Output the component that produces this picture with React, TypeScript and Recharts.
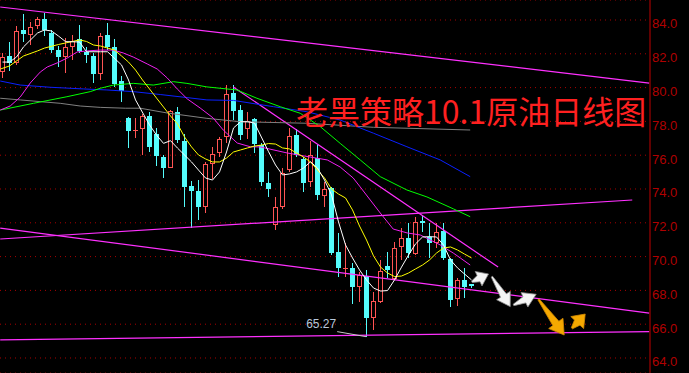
import React from 'react';
import { ComposedChart, Bar, Line, XAxis, YAxis, CartesianGrid, ReferenceLine } from 'recharts';

const W = 689;
const H = 373;
const AXIS_W = 39;
const SLOT = 7; // px per trading day
const X_MIN = -0.36;
const X_MAX = X_MIN + (W - AXIS_W) / SLOT;
const Y_MIN = 63.112;
const Y_MAX = 85.183;

// Daily OHLC, oldest first
const openP = [80.92, 81.87, 81.47, 83.41, 83.13, 83.66, 84.06, 83.21, 82.22, 81.79, 82.42, 82.86, 82.12, 81.89, 80.8, 83.11, 82.42, 80.37, 78.2, 77.46, 77.53, 78.32, 77.25, 75.91, 75.26, 78.57, 76.86, 74.2, 73.88, 72.92, 75.48, 76.11, 77.06, 79.66, 78.67, 77.55, 78.12, 76.6, 74.35, 71.87, 72.93, 75.12, 77.19, 75.76, 74.43, 75.82, 73.58, 74.04, 70.29, 69.29, 69.31, 68.2, 68.85, 66.35, 67.33, 69.44, 68.67, 70.55, 71.08, 70.15, 72.11, 71.18, 70.79, 71.53, 69.86, 67.47, 68.61, 68.38];
const highP = [82.05, 82.68, 83.64, 84.35, 83.86, 84.2, 84.43, 83.41, 82.46, 82.92, 83.11, 83.7, 82.42, 82.03, 83.21, 83.84, 82.86, 80.69, 78.26, 78.2, 78.44, 78.57, 77.59, 76.01, 78.67, 78.87, 77.25, 74.49, 74.53, 75.62, 76.47, 77.06, 80.15, 80.15, 78.97, 78.54, 78.2, 76.72, 75.02, 73.54, 75.24, 77.59, 77.55, 75.91, 76.86, 76.6, 74.43, 74.12, 71.41, 70.79, 69.6, 69.09, 69.21, 67.92, 69.8, 70.29, 70.88, 71.67, 71.97, 72.36, 72.46, 71.97, 71.97, 72.0, 69.9, 68.72, 69.31, 68.38];
const lowP = [80.57, 81.0, 81.34, 82.72, 82.52, 83.45, 83.07, 82.07, 81.24, 80.85, 81.63, 82.03, 81.44, 80.25, 80.45, 82.22, 80.05, 79.17, 76.43, 77.02, 76.01, 76.21, 75.36, 74.63, 75.22, 76.7, 72.95, 71.67, 72.17, 72.6, 74.57, 75.88, 76.7, 78.08, 76.9, 76.94, 76.15, 74.18, 73.51, 71.57, 72.82, 75.02, 75.89, 73.84, 74.14, 73.35, 72.92, 70.09, 68.81, 68.81, 67.18, 67.31, 65.27, 65.66, 67.23, 68.72, 68.61, 69.8, 69.9, 70.09, 71.47, 69.9, 70.49, 69.8, 67.0, 67.08, 67.53, 68.13];
const closeP = [81.81, 81.44, 83.33, 83.17, 83.57, 84.06, 83.41, 82.22, 81.83, 82.38, 82.78, 82.18, 81.93, 80.8, 83.05, 82.42, 80.21, 79.8, 77.43, 77.49, 78.32, 76.47, 75.97, 75.26, 78.62, 76.9, 74.14, 73.9, 72.95, 75.48, 76.05, 76.96, 79.62, 78.63, 77.19, 78.04, 76.66, 74.43, 74.0, 72.95, 74.95, 77.13, 76.01, 74.37, 76.01, 73.64, 73.98, 70.2, 69.31, 69.33, 68.22, 68.91, 66.35, 67.37, 69.15, 69.21, 70.49, 71.08, 70.2, 72.03, 71.97, 70.79, 71.47, 69.9, 67.43, 68.61, 68.22, 68.28];

// Moving averages as [day, price]
const ma5: [number, number][] = [[0, 81.51], [1, 81.51], [2, 81.81], [3, 82.41], [4, 82.82], [5, 83.23], [6, 83.41], [7, 83.35], [8, 83.05], [9, 82.72], [11, 82.7], [12, 82.12], [14, 82.12], [15, 82.12], [17, 81.34], [18, 80.45], [19, 79.27], [21, 77.79], [22, 77.19], [23, 76.7], [24, 76.86], [25, 76.42], [27, 75.6], [28, 75.12], [29, 74.65], [30, 74.53], [31, 75.01], [32, 76.19], [33, 77.61], [34, 77.98], [35, 77.98], [36, 77.9], [38, 76.21], [39, 75.42], [40, 74.83], [41, 74.89], [42, 75.01], [43, 75.24], [44, 75.61], [45, 75.24], [46, 74.53], [47, 73.65], [48, 72.05], [49, 70.69], [50, 69.92], [51, 69.21], [52, 68.62], [53, 68.14], [54, 67.96], [55, 67.99], [56, 68.62], [57, 69.38], [58, 70.09], [59, 70.75], [60, 71.16], [61, 71.18], [62, 71.16], [63, 70.69], [64, 69.8], [65, 69.33], [66, 68.97], [67, 68.62]];
const ma10: [number, number][] = [[-0.3, 81.1], [1, 81.28], [3, 81.87], [5, 82.17], [6, 82.34], [8, 82.55], [9, 82.64], [11, 82.82], [12, 82.73], [13, 82.52], [14, 82.46], [15, 82.34], [16, 82.22], [17, 81.87], [18, 81.51], [19, 81.04], [20, 80.45], [21, 79.92], [22, 79.38], [23, 78.85], [24, 78.32], [25, 77.85], [26, 77.08], [27, 76.49], [28, 76.01], [29, 75.78], [30, 75.6], [31, 75.6], [32, 75.83], [33, 76.19], [34, 76.31], [35, 76.43], [36, 76.54], [37, 76.6], [38, 76.69], [39, 76.66], [40, 76.43], [41, 76.37], [42, 76.13], [43, 75.89], [44, 75.6], [45, 75.12], [46, 74.65], [47, 74.0], [48, 73.7], [49, 73.47], [50, 72.76], [51, 71.81], [52, 70.98], [53, 70.04], [54, 69.38], [55, 69.03], [56, 68.82], [57, 68.85], [58, 69.03], [59, 69.27], [60, 69.5], [61, 69.8], [62, 70.21], [63, 70.51], [64, 70.57], [65, 70.39], [66, 70.15], [67, 69.92]];
const ma20: [number, number][] = [[-0.33, 78.67], [1.1, 78.91], [2.53, 79.44], [3.96, 80.27], [5.39, 80.92], [6.39, 81.22], [7.81, 81.46], [9.24, 81.75], [10.67, 82.11], [12.1, 82.17], [13.96, 82.22], [15.81, 82.22], [17.24, 82.05], [18.67, 81.81], [20.67, 81.4], [22.1, 81.1], [23.53, 80.57], [24.96, 79.92], [26.39, 79.33], [28.24, 78.79], [30.1, 78.2], [31.53, 77.49], [33.53, 76.72], [35.39, 76.5], [36.81, 76.49], [40.67, 76.13], [43.96, 75.89], [46.39, 75.72], [48.24, 75.3], [50.1, 74.65], [51.1, 74.12], [53.96, 72.58], [55.81, 71.63], [57.81, 71.4], [59.67, 71.28], [62.53, 70.69], [64.39, 70.21], [65.39, 69.92], [66.81, 69.5]];
const ma60: [number, number][] = [[-0.33, 78.67], [4.43, 79.07], [9.2, 79.46], [12.53, 79.76], [13.96, 79.96], [15.86, 80.15], [18.71, 80.25], [21.57, 80.15], [24.43, 80.35], [26.34, 80.25], [29.2, 80.04], [32.53, 79.9], [33.49, 79.86], [36.34, 79.37], [39.67, 78.87], [42.53, 78.48], [45.39, 77.69], [48.24, 76.7], [51.1, 75.72], [53.96, 74.73], [57.77, 73.94], [60.63, 73.53], [64.43, 72.82], [66.81, 72.36]];
const ma120: [number, number][] = [[-0.33, 80.39], [2.53, 80.15], [6.81, 80.02], [11.57, 79.92], [14.91, 79.86], [18.71, 79.76], [22.53, 79.59], [26.34, 79.41], [29.2, 79.27], [33, 79.24], [38.71, 78.87], [43.49, 78.57], [48.24, 78.08], [53, 77.3], [57.77, 76.5], [62.53, 75.72], [66.81, 74.73]];
const ma250: [number, number][] = [[-0.33, 79.37], [2.53, 79.27], [5.39, 79.17], [8.24, 79.07], [11.1, 78.91], [13.96, 78.83], [17.53, 78.78], [19.67, 78.78], [23.49, 78.5], [29.2, 78.18], [33.96, 77.98], [43.49, 77.89], [53, 77.65], [66.81, 77.49]];

// Trend lines: [day, price] -> [day, price]
const trendLines: [number, number, number, number][] = [
  [-0.33, 84.77, 92.39, 80.27],
  [-0.33, 71.04, 89.96, 73.35],
  [-0.33, 71.69, 92.39, 66.66],
  [-0.33, 65.07, 92.39, 65.56],
  [32.96, 80.04, 70.8, 69.38],
];

// Projected path arrows: [day, price] tail -> head
const whiteArrows: [number, number, number, number][] = [
  [67.06, 68.51, 69.43, 68.97],
  [69.91, 68.81, 72.53, 67.04],
  [73.0, 67.14, 76.24, 67.77],
];
const orangeArrows: [number, number, number, number][] = [
  [76.57, 67.47, 80.24, 65.36],
  [81.34, 65.76, 83.24, 66.6],
];

const lowMark = { value: 65.27, from: [47.81, 65.56], to: [51.96, 65.26] };

const priceTicks = [64, 66, 68, 70, 72, 74, 76, 78, 80, 82, 84];
const titleText = '老黑策略10.1原油日线图';

const UP = '#ff5454';
const DOWN = '#54fcfc';

const candles = openP.map((o, i) => ({
  i,
  o,
  h: highP[i],
  l: lowP[i],
  c: closeP[i],
  range: [lowP[i], highP[i]],
}));

const series = (pts: [number, number][]) => pts.map(([i, v]) => ({ i, v }));

const CandleShape = (props: any) => {
  const { x, y, width, height, payload } = props;
  if (payload == null || !isFinite(y) || !isFinite(height)) return null;
  const { o, h, l, c } = payload;
  const span = h - l;
  const k = span > 0 ? height / span : 0;
  const yOf = (v: number) => y + (h - v) * k;
  const cx = Math.round(x + width / 2 - 0.5);
  const up = c >= o;
  const top = Math.round(yOf(Math.max(o, c)));
  const bot = Math.round(yOf(Math.min(o, c)));
  const yH = Math.round(y);
  const yL = Math.round(y + height);
  if (up) {
    return (
      <g>
        <line x1={cx + 0.5} x2={cx + 0.5} y1={yH} y2={top} stroke={UP} strokeWidth={1} />
        <line x1={cx + 0.5} x2={cx + 0.5} y1={bot} y2={yL} stroke={UP} strokeWidth={1} />
        {bot - top >= 2 ? (
          <rect x={cx - 1.5} y={top + 0.5} width={4} height={bot - top - 1} fill="none" stroke={UP} strokeWidth={1} />
        ) : (
          <rect x={cx - 2} y={top} width={5} height={1} fill={UP} />
        )}
      </g>
    );
  }
  return (
    <g>
      <line x1={cx + 0.5} x2={cx + 0.5} y1={yH} y2={yL} stroke={DOWN} strokeWidth={1} />
      <rect x={cx - 2} y={top} width={5} height={Math.max(bot - top, 1)} fill={DOWN} />
    </g>
  );
};

const PriceTick = (props: any) => {
  const { x, y, payload } = props;
  return (
    <text x={x} y={y + 8.5} fill="#b00000" fontSize={13} fontFamily="'Liberation Sans', Arial, sans-serif" textAnchor="start">
      {Number(payload.value).toFixed(1)}
    </text>
  );
};

const arrowShape = (fill: string, edge: string, scale: number) => (p: any) => {
  const { x1, y1, x2, y2 } = p;
  const dx = x2 - x1;
  const dy = y2 - y1;
  const len = Math.hypot(dx, dy) || 1;
  const ux = dx / len;
  const uy = dy / len;
  const nx = -uy;
  const ny = ux;
  const headLen = Math.min(13 * scale, len * 0.6);
  const headHalf = 8 * scale;
  const shaftHead = 3.4 * scale;
  const shaftTail = 0.8;
  const bx = x2 - ux * headLen;
  const by = y2 - uy * headLen;
  const pts = [
    [x1 + nx * shaftTail, y1 + ny * shaftTail],
    [bx + nx * shaftHead, by + ny * shaftHead],
    [bx + nx * headHalf, by + ny * headHalf],
    [x2, y2],
    [bx - nx * headHalf, by - ny * headHalf],
    [bx - nx * shaftHead, by - ny * shaftHead],
    [x1 - nx * shaftTail, y1 - ny * shaftTail],
  ]
    .map((q) => q.join(','))
    .join(' ');
  return <polygon points={pts} fill={fill} stroke={edge} strokeWidth={0.8} strokeLinejoin="round" />;
};

const lowMarkShape = (p: any) => {
  const { x1, y1, x2, y2 } = p;
  return (
    <g>
      <line x1={x1} y1={y1} x2={x2} y2={y2} stroke="#c8c8c8" strokeWidth={1} />
      <text x={x1 - 1} y={y1 - 3.5} fill="#b8c8dc" fontSize={12} fontFamily="'Liberation Sans', Arial, sans-serif" textAnchor="end">
        {lowMark.value.toFixed(2)}
      </text>
    </g>
  );
};

export default function App() {
  return (
    <div style={{ position: 'absolute', left: 0, top: 0, width: W, height: H, background: '#000' }}>
      <ComposedChart
        width={W}
        height={H}
        data={candles}
        margin={{ top: 0, right: 0, bottom: 0, left: 0 }}
        style={{ background: '#000' }}
      >
        <CartesianGrid vertical={false} stroke="#a80000" strokeDasharray="1 4" />
        <XAxis type="number" dataKey="i" domain={[X_MIN, X_MAX]} hide allowDataOverflow />
        <YAxis
          orientation="right"
          width={AXIS_W}
          domain={[Y_MIN, Y_MAX]}
          ticks={priceTicks}
          allowDataOverflow
          axisLine={{ stroke: '#c00000' }}
          tickLine={false}
          tickSize={0}
          tickMargin={2}
          tick={<PriceTick />}
        />
        {trendLines.map(([a, b, c, d], k) => (
          <ReferenceLine
            key={'t' + k}
            segment={[{ x: a, y: b }, { x: c, y: d }]}
            stroke="#ff30ff"
            strokeWidth={1.2}
            ifOverflow="visible"
          />
        ))}
        <Line data={series(ma250)} dataKey="v" type="linear" stroke="#808080" strokeWidth={1} dot={false} activeDot={false} isAnimationActive={false} />
        <Line data={series(ma120)} dataKey="v" type="linear" stroke="#0a20ff" strokeWidth={1} dot={false} activeDot={false} isAnimationActive={false} />
        <Line data={series(ma60)} dataKey="v" type="linear" stroke="#00ff00" strokeWidth={1} dot={false} activeDot={false} isAnimationActive={false} />
        <Bar dataKey="range" barSize={5} shape={<CandleShape />} isAnimationActive={false} />
        <Line data={series(ma20)} dataKey="v" type="linear" stroke="#f020f0" strokeWidth={1} dot={false} activeDot={false} isAnimationActive={false} />
        <Line data={series(ma10)} dataKey="v" type="linear" stroke="#ffff00" strokeWidth={1} dot={false} activeDot={false} isAnimationActive={false} />
        <Line data={series(ma5)} dataKey="v" type="linear" stroke="#ffffff" strokeWidth={1} dot={false} activeDot={false} isAnimationActive={false} />
        <ReferenceLine
          segment={[{ x: lowMark.from[0], y: lowMark.from[1] }, { x: lowMark.to[0], y: lowMark.to[1] }]}
          shape={lowMarkShape}
          ifOverflow="visible"
        />
        {whiteArrows.map(([a, b, c, d], k) => (
          <ReferenceLine
            key={'w' + k}
            segment={[{ x: a, y: b }, { x: c, y: d }]}
            shape={arrowShape('#f4f4f4', '#8a8a8a', 1)}
            ifOverflow="visible"
          />
        ))}
        {orangeArrows.map(([a, b, c, d], k) => (
          <ReferenceLine
            key={'o' + k}
            segment={[{ x: a, y: b }, { x: c, y: d }]}
            shape={arrowShape('#f5a800', '#d08800', 1.1)}
            ifOverflow="visible"
          />
        ))}
      </ComposedChart>
      <svg width={W} height={H} style={{ position: 'absolute', left: 0, top: 0, pointerEvents: 'none' }}>
        <text x={296} y={124} fontSize={32} fill="#ff2020" fontFamily="'Noto Sans CJK SC', sans-serif">
          {titleText}
        </text>
      </svg>
    </div>
  );
}
